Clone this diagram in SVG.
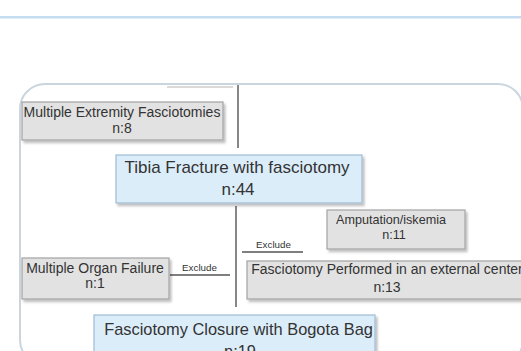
<svg xmlns="http://www.w3.org/2000/svg" width="521" height="351" viewBox="0 0 521 351">
<style>
text{font-family:"Liberation Sans",Arial,sans-serif;fill:#333;text-anchor:middle}
.g{fill:#e2e2e2;stroke:#a3a3a3;stroke-width:1.2;filter:url(#sh)}
.b{fill:#dcedfa;stroke:#9fbbd2;stroke-width:1.2;filter:url(#sh)}
.c{stroke:#555;stroke-width:1.4;fill:none}
.lbl{font-size:9.8px}
</style>
<defs>
<filter id="sh" x="-10%" y="-20%" width="130%" height="150%">
<feDropShadow dx="2" dy="2.5" stdDeviation="1.3" flood-color="#000" flood-opacity="0.25"/>
</filter>
</defs>
<rect x="0" y="16" width="521" height="2.5" fill="#c6ddf1"/>
<rect x="20" y="84" width="503" height="281" rx="25" fill="#fff" stroke="#c9d6df" stroke-width="2"/>
<g id="connectors">
<line x1="167" y1="87" x2="233" y2="87" stroke="#b5b5b5" stroke-width="1.2"/>
<line class="c" x1="238" y1="85" x2="238" y2="148"/>
<line class="c" x1="236" y1="206" x2="236" y2="307"/>
<line class="c" x1="170" y1="275" x2="230" y2="275" stroke-width="1"/>
<line class="c" x1="242" y1="252" x2="303" y2="252" stroke-width="1"/>
<text class="lbl" x="199.5" y="271">Exclude</text>
<text class="lbl" x="273.5" y="247.5">Exclude</text>
</g>
<g id="node-extremity">
<rect class="g" x="22" y="102" width="201" height="38"/>
<text x="122" y="117" font-size="14">Multiple Extremity Fasciotomies</text>
<text x="122" y="133" font-size="14">n:8</text>
</g>
<g id="node-tibia">
<rect class="b" x="116" y="155" width="246" height="48"/>
<text x="237" y="173" font-size="17">Tibia Fracture with fasciotomy</text>
<text x="238" y="195" font-size="17">n:44</text>
</g>
<g id="node-amputation">
<rect class="g" x="327" y="210" width="138" height="39"/>
<text x="391" y="224" font-size="12.6">Amputation/iskemia</text>
<text x="394" y="239" font-size="12.6">n:11</text>
</g>
<g id="node-organ">
<rect class="g" x="22" y="258" width="147" height="41"/>
<text x="95" y="273" font-size="14">Multiple Organ Failure</text>
<text x="95" y="288" font-size="14">n:1</text>
</g>
<g id="node-external">
<rect class="g" x="247" y="261" width="285" height="38"/>
<text x="387" y="274" font-size="14">Fasciotomy Performed in an external center</text>
<text x="387" y="292" font-size="14">n:13</text>
</g>
<g id="node-bogota">
<rect class="b" x="94" y="315" width="281" height="50"/>
<text x="238.5" y="335" font-size="16.4">Fasciotomy Closure with Bogota Bag</text>
<text x="240" y="357" font-size="16.4">n:19</text>
</g>
</svg>
